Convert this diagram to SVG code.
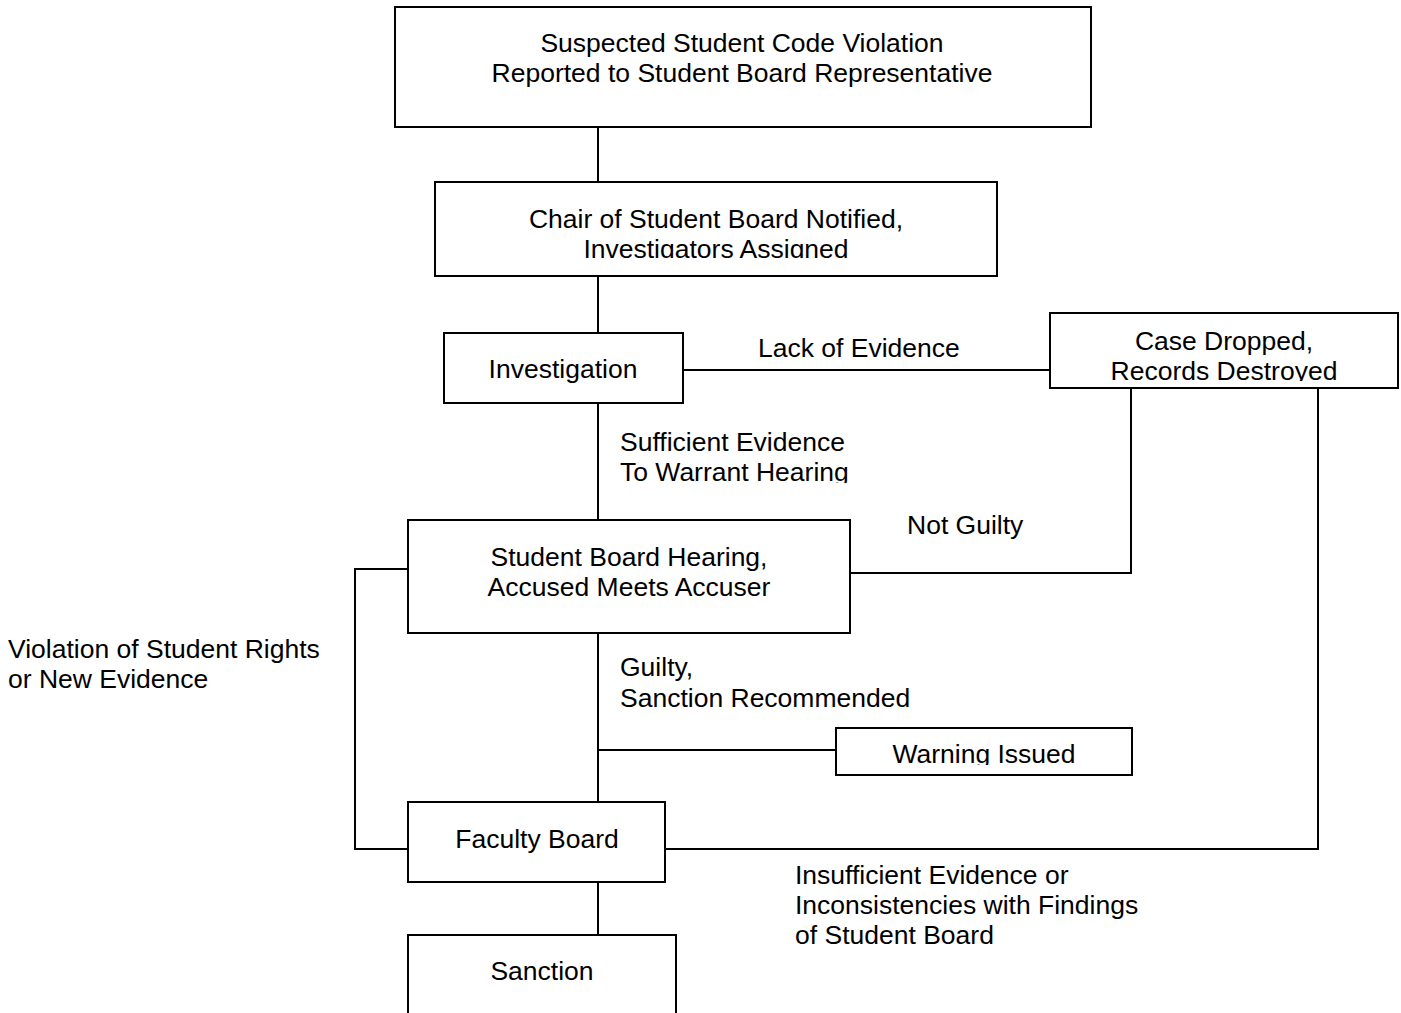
<svg xmlns="http://www.w3.org/2000/svg" width="1401" height="1013" viewBox="0 0 1401 1013">
<style>
.box{fill:#fff;stroke:#000;stroke-width:2}
.ln{stroke:#000;stroke-width:2;fill:none}
text{font-family:"Liberation Sans",Arial,sans-serif;font-size:26.5px;fill:#000}
.c{text-anchor:middle}
</style>
<defs>
<clipPath id="clipChair"><rect x="435" y="182" width="562" height="76"/></clipPath>
<clipPath id="clipCase"><rect x="1050" y="313" width="348" height="68"/></clipPath>
<clipPath id="clipWarrant"><rect x="600" y="420" width="300" height="63"/></clipPath>
<clipPath id="clipWarn"><rect x="836" y="728" width="296" height="37"/></clipPath>
</defs>
<rect width="1401" height="1013" fill="#fff"/>
<g id="connectors">
<line class="ln" x1="598" y1="127" x2="598" y2="182"/>
<line class="ln" x1="598" y1="276" x2="598" y2="333"/>
<line class="ln" x1="683" y1="370" x2="1050" y2="370"/>
<line class="ln" x1="598" y1="403" x2="598" y2="520"/>
<polyline class="ln" points="1131,388 1131,573 850,573"/>
<polyline class="ln" points="1318,388 1318,849 665,849"/>
<polyline class="ln" points="408,569 355,569 355,849 408,849"/>
<line class="ln" x1="598" y1="633" x2="598" y2="802"/>
<line class="ln" x1="598" y1="750" x2="836" y2="750"/>
<line class="ln" x1="598" y1="882" x2="598" y2="935"/>
<g id="edge-labels">
<text x="758" y="357">Lack of Evidence</text>
<text x="620" y="451">Sufficient Evidence</text>
<text x="620" y="481" clip-path="url(#clipWarrant)">To Warrant Hearing</text>
<text x="907" y="534">Not Guilty</text>
<text x="8" y="658">Violation of Student Rights</text>
<text x="8" y="688">or New Evidence</text>
<text x="620" y="676">Guilty,</text>
<text x="620" y="707">Sanction Recommended</text>
<text x="795" y="884">Insufficient Evidence or</text>
<text x="795" y="914">Inconsistencies with Findings</text>
<text x="795" y="944">of Student Board</text>
</g>
</g>
<g id="node-report">
<rect class="box" x="395" y="7" width="696" height="120"/>
<text class="c" x="742" y="52">Suspected Student Code Violation</text>
<text class="c" x="742" y="82">Reported to Student Board Representative</text>
</g>
<g id="node-chair">
<rect class="box" x="435" y="182" width="562" height="94"/>
<text class="c" x="716" y="228">Chair of Student Board Notified,</text>
<text class="c" x="716" y="258" clip-path="url(#clipChair)">Investigators Assigned</text>
</g>
<g id="node-investigation">
<rect class="box" x="444" y="333" width="239" height="70"/>
<text class="c" x="563" y="378">Investigation</text>
</g>
<g id="node-case-dropped">
<rect class="box" x="1050" y="313" width="348" height="75"/>
<text class="c" x="1224" y="350">Case Dropped,</text>
<text class="c" x="1224" y="380" clip-path="url(#clipCase)">Records Destroyed</text>
</g>
<g id="node-hearing">
<rect class="box" x="408" y="520" width="442" height="113"/>
<text class="c" x="629" y="566">Student Board Hearing,</text>
<text class="c" x="629" y="596">Accused Meets Accuser</text>
</g>
<g id="node-warning">
<rect class="box" x="836" y="728" width="296" height="47"/>
<text class="c" x="984" y="763" clip-path="url(#clipWarn)">Warning Issued</text>
</g>
<g id="node-faculty">
<rect class="box" x="408" y="802" width="257" height="80"/>
<text class="c" x="537" y="848">Faculty Board</text>
</g>
<g id="node-sanction">
<rect class="box" x="408" y="935" width="268" height="90"/>
<text class="c" x="542" y="980">Sanction</text>
</g>
</svg>
